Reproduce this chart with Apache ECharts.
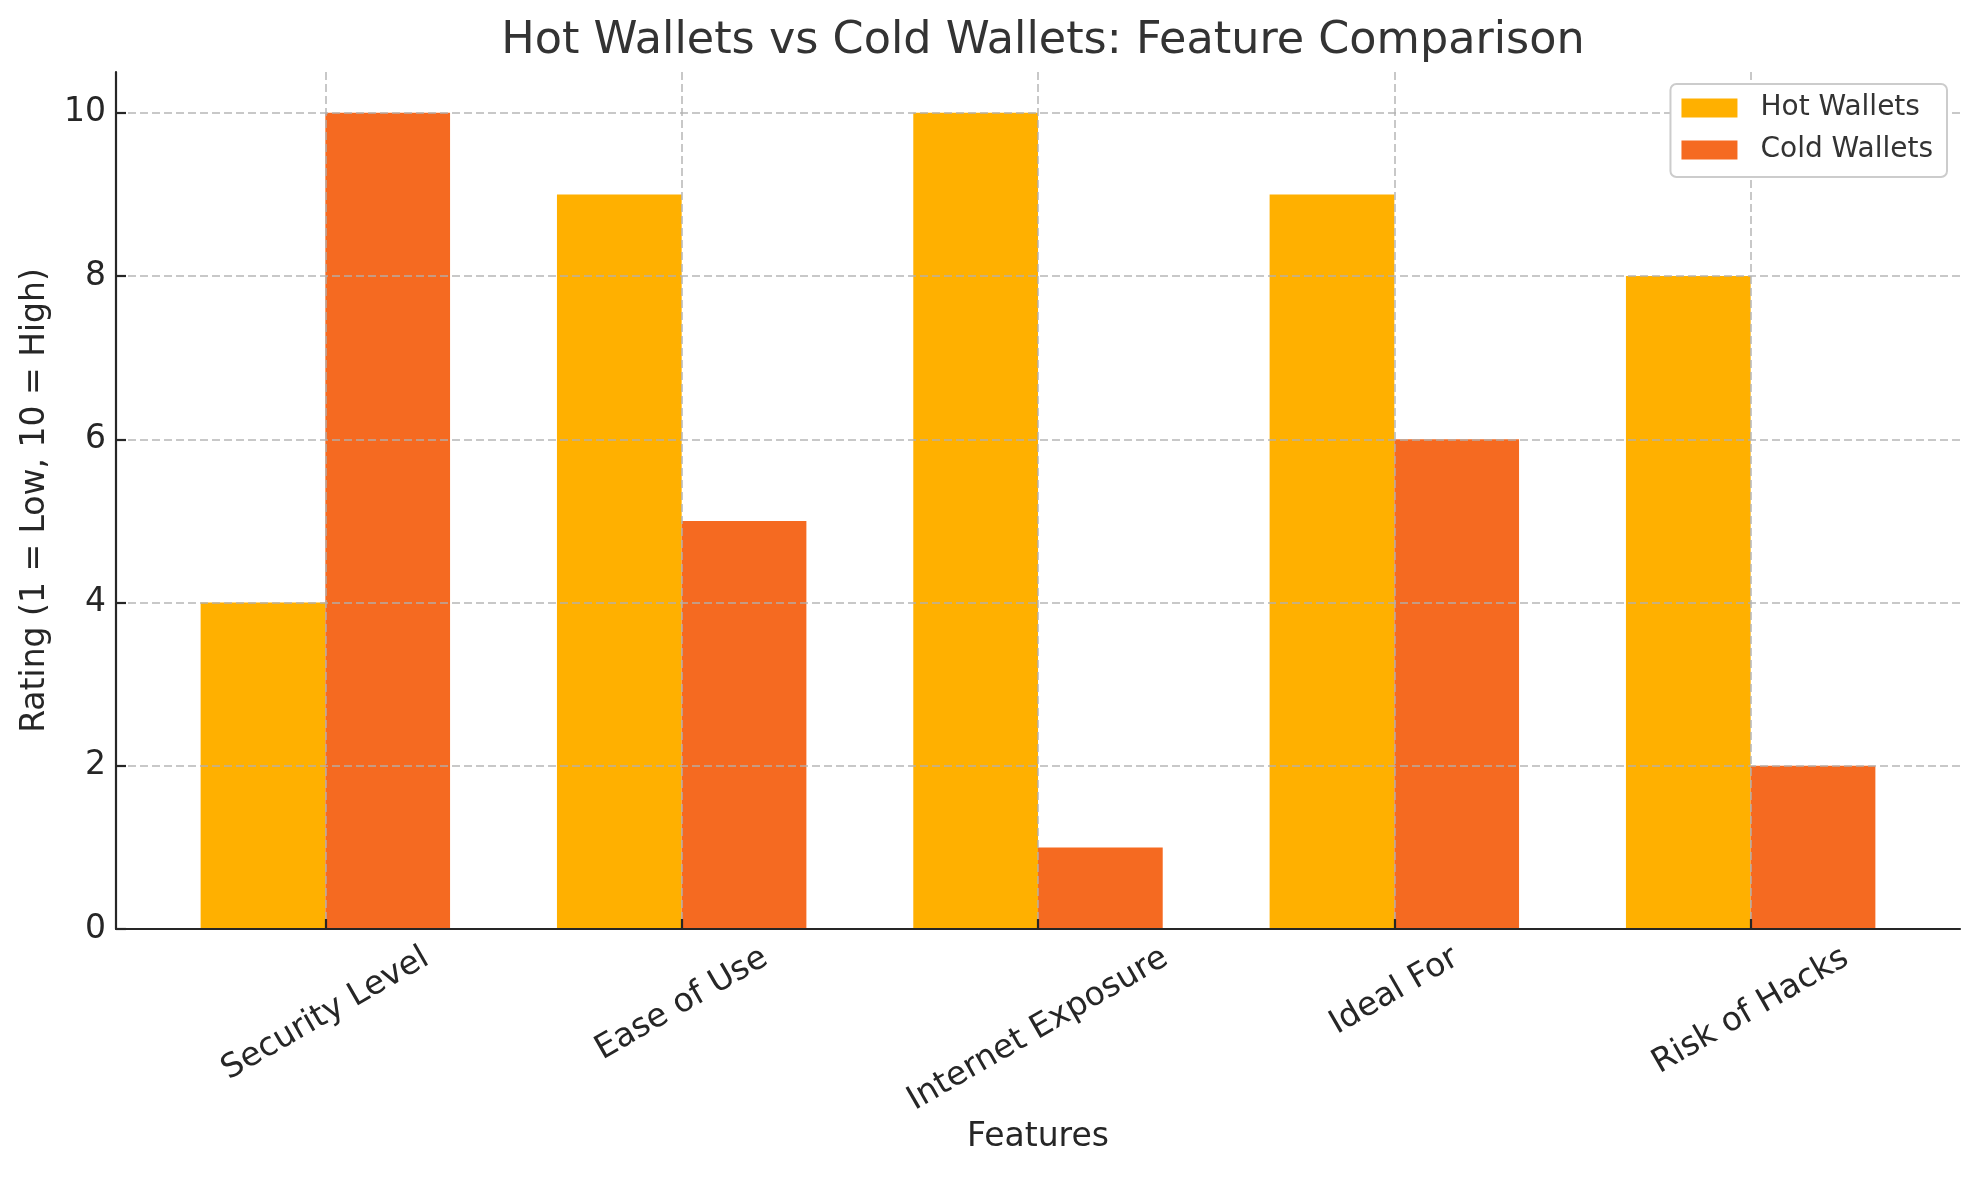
<!DOCTYPE html>
<html>
<head>
<meta charset="utf-8">
<script src="https://cdn.jsdelivr.net/npm/echarts@6/dist/echarts.min.js"></script>
<style>
html,body{margin:0;padding:0;background:#fff;}
#chart{width:1979px;height:1180px;}
</style>
</head>
<body>
<div id="chart"></div>
<script>
// ---- data ----
const categories = ['Security Level', 'Ease of Use', 'Internet Exposure', 'Ideal For', 'Risk of Hacks'];
const hotWallets = [4, 9, 10, 9, 8];
const coldWallets = [10, 5, 1, 6, 2];
const yTicks = [0, 2, 4, 6, 8, 10];
const xTicks = [0, 1, 2, 3, 4];

// ---- style / layout constants ----
const FONT = 'DejaVu Sans';
const HOT_COLOR = '#FFB000';
const COLD_COLOR = '#F56A21';
const BAR_W = 0.35;
const GRID_COLOR = 'rgba(176,176,176,0.7)';
const AXIS_COLOR = '#262626';
const TICK_FS = 33;
const GRID_LEFT = 116, GRID_RIGHT = 19;
const CHART_W = 1979;

const chart = echarts.init(document.getElementById('chart'), null, {renderer: 'canvas'});

const measureCtx = document.createElement('canvas').getContext('2d');
measureCtx.font = TICK_FS + 'px "' + FONT + '"';

function barItem(offsetSign, color) {
  return function (params, api) {
    const x = api.value(0), y = api.value(1);
    const x0 = offsetSign < 0 ? x - BAR_W : x;
    const x1 = offsetSign < 0 ? x : x + BAR_W;
    const pTop = api.coord([x0, y]);
    const pBot = api.coord([x1, 0]);
    return {
      type: 'rect',
      shape: {x: pTop[0], y: pTop[1], width: pBot[0] - pTop[0], height: pBot[1] - pTop[1]},
      style: {fill: color}
    };
  };
}

function labelItem(params, api) {
  const i = api.value(0);
  const text = categories[params.dataIndex];
  const p = api.coord([i, 0]);
  const L = measureCtx.measureText(text).width;
  const H = TICK_FS * 1.17;
  const s = Math.sin(Math.PI / 6), c = Math.cos(Math.PI / 6);
  const h = L * s + H * c;
  return {
    type: 'text',
    x: p[0],
    y: p[1] + 10 + h / 2,
    rotation: Math.PI / 6,
    style: {
      text: text,
      fill: AXIS_COLOR,
      font: TICK_FS + 'px "' + FONT + '"',
      align: 'center',
      verticalAlign: 'middle'
    }
  };
}

const option = {
  backgroundColor: '#ffffff',
  animation: false,
  title: {
    text: 'Hot Wallets vs Cold Wallets: Feature Comparison',
    left: (GRID_LEFT + (CHART_W - GRID_RIGHT)) / 2,
    textAlign: 'center',
    top: 14,
    textStyle: {fontFamily: FONT, fontSize: 44.5, fontWeight: 'normal', color: '#333333'}
  },
  legend: {
    orient: 'vertical',
    right: 32,
    top: 84,
    data: ['Hot Wallets', 'Cold Wallets'],
    icon: 'rect',
    itemWidth: 56,
    itemHeight: 19,
    itemGap: 14,
    padding: [10, 14, 13, 11],
    borderColor: '#cccccc',
    borderWidth: 2,
    borderRadius: 6,
    backgroundColor: '#ffffff',
    textStyle: {fontFamily: FONT, fontSize: 28, color: '#333333', lineHeight: 28, padding: [0, 0, 0, 18]}
  },
  grid: {left: GRID_LEFT, right: GRID_RIGHT, top: 72, bottom: 251, containLabel: false},
  xAxis: {
    type: 'value',
    min: -0.5875,
    max: 4.5875,
    z: 3,
    name: 'Features',
    nameLocation: 'middle',
    nameGap: 192,
    nameTextStyle: {fontFamily: FONT, fontSize: 33, color: AXIS_COLOR, verticalAlign: 'top'},
    axisLine: {show: true, onZero: false, lineStyle: {color: AXIS_COLOR, width: 2.2}},
    axisTick: {show: true, inside: true, length: 10, customValues: xTicks, lineStyle: {color: AXIS_COLOR, width: 2.2}},
    axisLabel: {show: false, customValues: xTicks},
    splitLine: {show: true, lineStyle: {color: GRID_COLOR, width: 2, type: [8, 4]}}
  },
  yAxis: {
    type: 'value',
    min: 0,
    max: 10.5,
    z: 3,
    name: 'Rating (1 = Low, 10 = High)',
    nameLocation: 'middle',
    nameGap: 64,
    nameTextStyle: {fontFamily: FONT, fontSize: 33, color: AXIS_COLOR},
    axisLine: {show: true, onZero: false, lineStyle: {color: AXIS_COLOR, width: 2.2}},
    axisTick: {show: true, inside: true, length: 10, customValues: yTicks, lineStyle: {color: AXIS_COLOR, width: 2.2}},
    axisLabel: {show: true, customValues: yTicks, margin: 10, fontFamily: FONT, fontSize: 33, color: AXIS_COLOR},
    splitLine: {show: true, lineStyle: {color: GRID_COLOR, width: 2, type: [8, 4]}}
  },
  series: [
    {
      name: 'Hot Wallets',
      type: 'custom',
      clip: false,
      itemStyle: {color: HOT_COLOR},
      renderItem: barItem(-1, HOT_COLOR),
      encode: {x: 0, y: 1},
      data: hotWallets.map((v, i) => [i, v])
    },
    {
      name: 'Cold Wallets',
      type: 'custom',
      clip: false,
      itemStyle: {color: COLD_COLOR},
      renderItem: barItem(1, COLD_COLOR),
      encode: {x: 0, y: 1},
      data: coldWallets.map((v, i) => [i, v])
    },
    {
      name: 'labels',
      type: 'custom',
      clip: false,
      silent: true,
      renderItem: labelItem,
      encode: {x: 0, y: 1},
      data: categories.map((c, i) => [i, 0])
    }
  ]
};
chart.setOption(option);
</script>
</body>
</html>
